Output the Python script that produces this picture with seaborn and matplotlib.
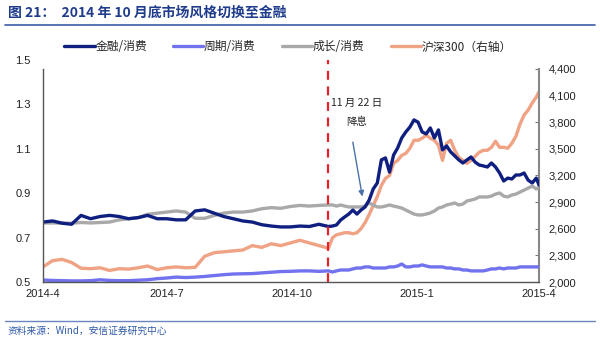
import matplotlib
matplotlib.use("Agg")
import matplotlib.pyplot as plt
import matplotlib.dates as mdates
import matplotlib.ticker as mticker
import seaborn as sns
import pandas as pd

# ---------------- data ----------------
dates = [
    "2014-04-01", "2014-04-08", "2014-04-15", "2014-04-22", "2014-04-29", "2014-05-06", "2014-05-13",
    "2014-05-20", "2014-05-27", "2014-06-03", "2014-06-10", "2014-06-17", "2014-06-24", "2014-07-01",
    "2014-07-08", "2014-07-15", "2014-07-22", "2014-07-29", "2014-08-05", "2014-08-12", "2014-08-19",
    "2014-08-26", "2014-09-02", "2014-09-09", "2014-09-16", "2014-09-23", "2014-09-30", "2014-10-07",
    "2014-10-14", "2014-10-21", "2014-10-28",
    "2014-10-31", "2014-11-03", "2014-11-06", "2014-11-09", "2014-11-12", "2014-11-15", "2014-11-18",
    "2014-11-21", "2014-11-24", "2014-11-27", "2014-11-30", "2014-12-03", "2014-12-06", "2014-12-09",
    "2014-12-12", "2014-12-15", "2014-12-18", "2014-12-21", "2014-12-24", "2014-12-27", "2014-12-30",
    "2015-01-02", "2015-01-05", "2015-01-08", "2015-01-11", "2015-01-14", "2015-01-17", "2015-01-20",
    "2015-01-23", "2015-01-26", "2015-01-29", "2015-02-01", "2015-02-04", "2015-02-07", "2015-02-10",
    "2015-02-13", "2015-02-16", "2015-02-19", "2015-02-22", "2015-02-25", "2015-02-28", "2015-03-03",
    "2015-03-06", "2015-03-09", "2015-03-12", "2015-03-15", "2015-03-18", "2015-03-21", "2015-03-24",
    "2015-03-27", "2015-03-30", "2015-04-01",
]

fin_cons = [
    0.77, 0.775, 0.765, 0.76, 0.80, 0.785, 0.795, 0.80, 0.795, 0.785, 0.79, 0.80, 0.785, 0.785, 0.78,
    0.78, 0.82, 0.825, 0.81, 0.795, 0.785, 0.775, 0.77, 0.758, 0.752, 0.748, 0.748, 0.752, 0.75, 0.76, 0.75,
    0.752, 0.757, 0.779, 0.793, 0.806, 0.824, 0.806, 0.824, 0.838, 0.869,
    0.919, 0.946, 1.05, 1.059, 0.995, 1.072, 1.104, 1.149, 1.176, 1.198,
    1.23, 1.22, 1.176, 1.167, 1.194, 1.149, 1.185, 1.095, 1.113, 1.086,
    1.068, 1.05, 1.036, 1.05, 1.063, 1.04, 1.027, 1.023, 1.018, 1.036,
    1.018, 0.991, 0.955, 0.968, 0.964, 0.982, 0.982, 0.991, 0.959, 0.946,
    0.968, 0.937,
]

cyc_cons = [
    0.509, 0.507, 0.506, 0.505, 0.505, 0.506, 0.51, 0.507, 0.506, 0.506, 0.508, 0.51, 0.515, 0.518, 0.522,
    0.52, 0.522, 0.525, 0.529, 0.533, 0.536, 0.537, 0.538, 0.541, 0.544, 0.547, 0.548, 0.55, 0.55, 0.548, 0.55,
    0.545, 0.55, 0.554, 0.554, 0.554, 0.559, 0.563, 0.563, 0.568, 0.568,
    0.563, 0.563, 0.563, 0.563, 0.568, 0.568, 0.572, 0.581, 0.568, 0.568,
    0.572, 0.572, 0.577, 0.572, 0.568, 0.568, 0.568, 0.568, 0.563, 0.563,
    0.559, 0.559, 0.554, 0.554, 0.55, 0.55, 0.55, 0.55, 0.554, 0.559,
    0.559, 0.563, 0.559, 0.563, 0.563, 0.563, 0.568, 0.568, 0.568, 0.568,
    0.568, 0.568,
]

gro_cons = [
    0.766, 0.766, 0.765, 0.765, 0.768, 0.766, 0.768, 0.77, 0.78, 0.785, 0.79, 0.805, 0.81, 0.815, 0.82,
    0.815, 0.787, 0.787, 0.80, 0.81, 0.815, 0.815, 0.82, 0.83, 0.835, 0.832, 0.84, 0.845, 0.842, 0.845, 0.847,
    0.847, 0.842, 0.847, 0.842, 0.838, 0.838, 0.838, 0.838, 0.842, 0.856,
    0.847, 0.838, 0.838, 0.842, 0.847, 0.842, 0.838, 0.833, 0.824, 0.815,
    0.806, 0.802, 0.802, 0.806, 0.811, 0.82, 0.833, 0.838, 0.847, 0.851,
    0.856, 0.847, 0.851, 0.865, 0.869, 0.874, 0.883, 0.883, 0.883, 0.887,
    0.896, 0.901, 0.887, 0.883, 0.892, 0.896, 0.905, 0.914, 0.923, 0.932,
    0.919, 0.928,
]

hs300 = [
    2170, 2240, 2255, 2220, 2155, 2150, 2160, 2130, 2150, 2145, 2160, 2180, 2140, 2160, 2170,
    2160, 2165, 2290, 2330, 2340, 2350, 2360, 2410, 2390, 2430, 2410, 2440, 2470, 2440, 2410, 2380,
    2498, 2532, 2543, 2555, 2555, 2543, 2555, 2600, 2668, 2758,
    2860, 2962, 3087, 3166, 3200, 3336, 3370, 3426, 3449, 3506,
    3596, 3596, 3619, 3653, 3619, 3596, 3540, 3370, 3562, 3596,
    3483, 3404, 3370, 3336, 3370, 3415, 3460, 3483, 3483, 3517,
    3585, 3517, 3517, 3506, 3562, 3641, 3777, 3879, 3936, 4015,
    4083, 4140,
]

series_names = ["金融/消费", "周期/消费", "成长/消费", "沪深300（右轴）"]
series_colors = ["#0f1f80", "#7272ee", "#a9a9a9", "#f0a284"]

xtick_dates = ["2014-04-01", "2014-07-01", "2014-10-01", "2015-01-01", "2015-04-01"]
xtick_labels = ["2014-4", "2014-7", "2014-10", "2015-1", "2015-4"]
left_ticks = [0.5, 0.7, 0.9, 1.1, 1.3, 1.5]
right_ticks = [2000, 2300, 2600, 2900, 3200, 3500, 3800, 4100, 4400]

event_date = "2014-10-28"
cut_date = "2014-11-22"

title = "图 21：  2014 年 10 月底市场风格切换至金融"
source = "资料来源：Wind，安信证券研究中心"

# ---------------- style ----------------
sns.set_style("white")
plt.rcParams["font.family"] = ["Liberation Sans", "Noto Sans CJK SC", "DejaVu Sans"]
cjk = ["Noto Sans CJK SC", "DejaVu Sans"]

df = pd.DataFrame({
    "date": pd.to_datetime(dates),
    "fin": fin_cons, "cyc": cyc_cons, "gro": gro_cons, "hs": hs300,
})

fig = plt.figure(figsize=(6.0, 3.47), dpi=100)
ax = fig.add_axes([43 / 600, 1 - 282 / 347, (539 - 43) / 600, (282 - 60) / 347])
ax2 = ax.twinx()

sns.lineplot(data=df, x="date", y="hs", ax=ax2, color=series_colors[3], lw=1.9,
             label=series_names[3], legend=False)
sns.lineplot(data=df, x="date", y="cyc", ax=ax, color=series_colors[1], lw=1.6,
             label=series_names[1], legend=False)
sns.lineplot(data=df, x="date", y="gro", ax=ax, color=series_colors[2], lw=1.8,
             label=series_names[2], legend=False)
sns.lineplot(data=df, x="date", y="fin", ax=ax, color=series_colors[0], lw=1.9,
             label=series_names[0], legend=False)

ax.set_zorder(ax2.get_zorder() + 1)
ax.patch.set_visible(False)

ax.set_xlim(pd.Timestamp("2014-04-01"), pd.Timestamp("2015-04-01"))
ax.set_ylim(0.5, 1.5)
ax2.set_ylim(2000, 4500)

ax.set_xticks(pd.to_datetime(xtick_dates))
ax.set_xticklabels(xtick_labels)
ax.set_yticks(left_ticks)
ax.yaxis.set_major_formatter(mticker.FormatStrFormatter("%.1f"))
ax2.set_yticks(right_ticks)
ax2.yaxis.set_major_formatter(mticker.FuncFormatter(lambda v, p: f"{int(v):,}"))

ax.set_xlabel("")
ax.set_ylabel("")
ax2.set_ylabel("")

for a in (ax, ax2):
    a.spines["top"].set_visible(False)
    a.grid(False)
ax.spines["right"].set_visible(False)
ax2.spines["left"].set_visible(False)
ax2.spines["bottom"].set_visible(False)
ax.spines["left"].set_color("#555555")
ax.spines["left"].set_linewidth(1.0)
ax.spines["left"].set_bounds(0.5, 1.46)
ax.spines["bottom"].set_color("#555555")
ax.spines["bottom"].set_linewidth(1.0)
ax2.spines["right"].set_color("#888888")
ax2.spines["right"].set_linewidth(1.5)
ax2.spines["right"].set_bounds(2000, 4400)

ax.tick_params(axis="x", direction="in", length=3, width=0.8, color="#555555",
               labelsize=8, pad=5, labelcolor="#222222")
ax.tick_params(axis="y", length=0, labelsize=8, pad=9, labelcolor="#222222")
ax2.tick_params(axis="y", direction="in", length=3, width=0.8, color="#777777",
                labelsize=8, pad=7, labelcolor="#222222")

# event line and annotation
ax.axvline(mdates.date2num(pd.Timestamp(event_date)), ymin=0, ymax=1, color="#e8202a",
           lw=1.6, ls=(0, (4, 3)), zorder=5)
ax.text(mdates.date2num(pd.Timestamp("2014-11-18")), 1.305, "11 月 22 日", ha="center",
        va="center", fontsize=7.5, family=cjk, color="#222222")
ax.text(mdates.date2num(pd.Timestamp("2014-11-18")), 1.22, "降息", ha="center",
        va="center", fontsize=7.5, family=cjk, color="#222222")
ax.annotate("", xy=(mdates.date2num(pd.Timestamp(cut_date)), 0.885),
            xytext=(mdates.date2num(pd.Timestamp("2014-11-15")), 1.13),
            arrowprops=dict(arrowstyle="-|>", color="#4a72a8", lw=1.0,
                            mutation_scale=8, shrinkA=0, shrinkB=0), zorder=6)

# legend
h1, l1 = ax.get_legend_handles_labels()
h2, l2 = ax2.get_legend_handles_labels()
hmap = dict(zip(l1 + l2, h1 + h2))
handles = [hmap[n] for n in series_names]
for h in handles:
    h.set_linewidth(2.4)
leg = fig.legend(handles, series_names, loc="center", bbox_to_anchor=(288 / 600, 1 - 47 / 347),
                 ncol=4, frameon=False, prop={"family": cjk, "size": 8.5},
                 handlelength=2.6, handletextpad=0.05, columnspacing=2.2, borderaxespad=0)

# title, rules, source
fig.text(8 / 600, 1 - 13 / 347, title, ha="left", va="center", fontsize=10,
         fontweight="bold", family=cjk, color="#1f3c8c")
fig.add_artist(plt.Line2D([5 / 600, 595 / 600], [1 - 25 / 347, 1 - 25 / 347],
                          color="#3b5ba5", lw=1.2))
fig.add_artist(plt.Line2D([5 / 600, 595 / 600], [1 - 321 / 347, 1 - 321 / 347],
                          color="#6a85c0", lw=1.0))
fig.text(8 / 600, 1 - 331 / 347, source, ha="left", va="center", fontsize=7,
         style="italic", family=cjk, color="#2f5aa8")

fig.savefig("out.png", dpi=100)
